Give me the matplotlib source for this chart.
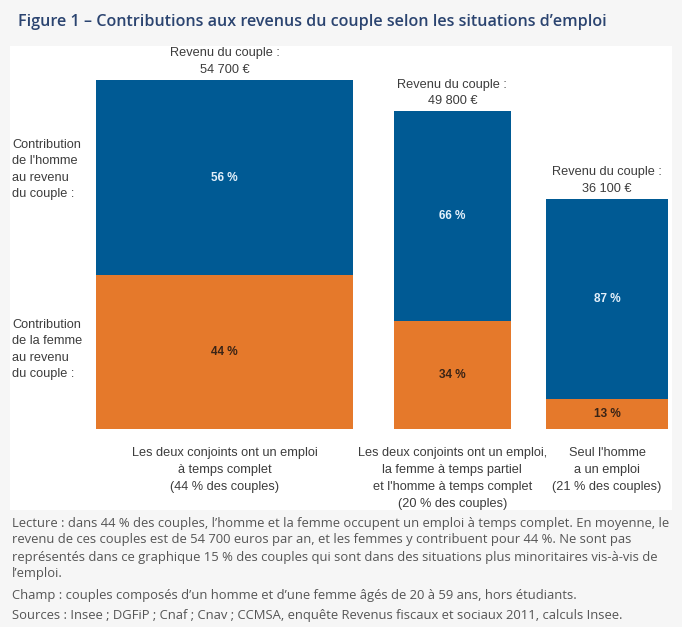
import matplotlib
matplotlib.use("Agg")
import matplotlib.pyplot as plt
from matplotlib.patches import Rectangle

W, H = 682, 627
plt.rcParams['font.family'] = ['Liberation Sans Narrow', 'Liberation Sans', 'DejaVu Sans']

# data
situations = ["Les deux conjoints ont un emploi\nà temps complet\n(44 % des couples)",
              "Les deux conjoints ont un emploi,\nla femme à temps partiel\net l'homme à temps complet\n(20 % des couples)",
              "Seul l'homme\na un emploi\n(21 % des couples)"]
part_couples = [44, 20, 21]          # bar widths (% of couples)
revenu = [54700, 49800, 36100]       # couple income (euros)
part_femme = [44, 34, 13]            # woman's contribution (%)
part_homme = [56, 66, 87]            # man's contribution (%)
revenu_lbl = ["54 700 €", "49 800 €", "36 100 €"]

BLUE = '#005a94'
ORANGE = '#e5792b'
GREY = '#3c3c3c'

def fx(x): return x / W
def fy(y): return 1 - y / H

fig = plt.figure(figsize=(W / 100, H / 100), dpi=100, facecolor='#f6f6f6')
fig.patches.append(Rectangle((fx(10), fy(510)), fx(672) - fx(10), fy(46) - fy(510),
                             transform=fig.transFigure, facecolor='white', edgecolor='none', zorder=-10))

fig.text(fx(18), fy(22), "Figure 1 – Contributions aux revenus du couple selon les situations d’emploi",
         family='Open Sans', fontweight='semibold', fontsize=11.6, color='#2b4470', va='center', ha='left')

ax = fig.add_axes([fx(96), fy(429), fx(672) - fx(96), fy(80) - fy(429)])
ax.set_xlim(0, 98.6)
ax.set_ylim(0, revenu[0])
ax.patch.set_alpha(0)
ax.axis('off')

gaps = [0, 7, 6]
lefts = []
x = 0
for w, g in zip(part_couples, gaps):
    x += g
    lefts.append(x)
    x += w

for i in range(3):
    left, w, tot = lefts[i], part_couples[i], revenu[i]
    f = tot * part_femme[i] / 100
    h = tot * part_homme[i] / 100
    ax.bar(left, f, width=w, align='edge', color=ORANGE, linewidth=0)
    ax.bar(left, h, width=w, bottom=f, align='edge', color=BLUE, linewidth=0)
    cx = left + w / 2
    ax.text(cx, f + h / 2, f"{part_homme[i]} %", ha='center', va='center',
            color='#e3f0fb', fontsize=8.5, fontweight='bold')
    ax.text(cx, f / 2, f"{part_femme[i]} %", ha='center', va='center',
            color='#3a2416', fontsize=8.5, fontweight='bold')
    ax.annotate(f"Revenu du couple :\n{revenu_lbl[i]}", (cx, tot), xytext=(0, 3),
                textcoords='offset points', ha='center', va='bottom', fontsize=9.2,
                color=GREY, linespacing=1.5, annotation_clip=False)
    ax.annotate(situations[i], (cx, 0), xytext=(0, -13), textcoords='offset points',
                ha='center', va='top', fontsize=9.2, color=GREY, linespacing=1.55,
                annotation_clip=False)

fig.text(fx(12), fy(139), "Contribution\nde l'homme\nau revenu\ndu couple :", ha='left', va='top',
         fontsize=9.2, color=GREY, linespacing=1.5)
fig.text(fx(12), fy(319), "Contribution\nde la femme\nau revenu\ndu couple :", ha='left', va='top',
         fontsize=9.2, color=GREY, linespacing=1.5)

notes = [
    (523, "Lecture : dans 44 % des couples, l’homme et la femme occupent un emploi à temps complet. En moyenne, le"),
    (540, "revenu de ces couples est de 54 700 euros par an, et les femmes y contribuent pour 44 %. Ne sont pas"),
    (557, "représentés dans ce graphique 15 % des couples qui sont dans des situations plus minoritaires vis-à-vis de"),
    (574, "l’emploi."),
    (595, "Champ : couples composés d’un homme et d’une femme âgés de 20 à 59 ans, hors étudiants."),
    (615, "Sources : Insee ; DGFiP ; Cnaf ; Cnav ; CCMSA, enquête Revenus fiscaux et sociaux 2011, calculs Insee."),
]
for y, t in notes:
    fig.text(fx(12), fy(y), t, family='Open Sans', fontsize=9.4, color='#555555', va='center', ha='left')

fig.savefig("out.png", dpi=100, facecolor=fig.get_facecolor())
